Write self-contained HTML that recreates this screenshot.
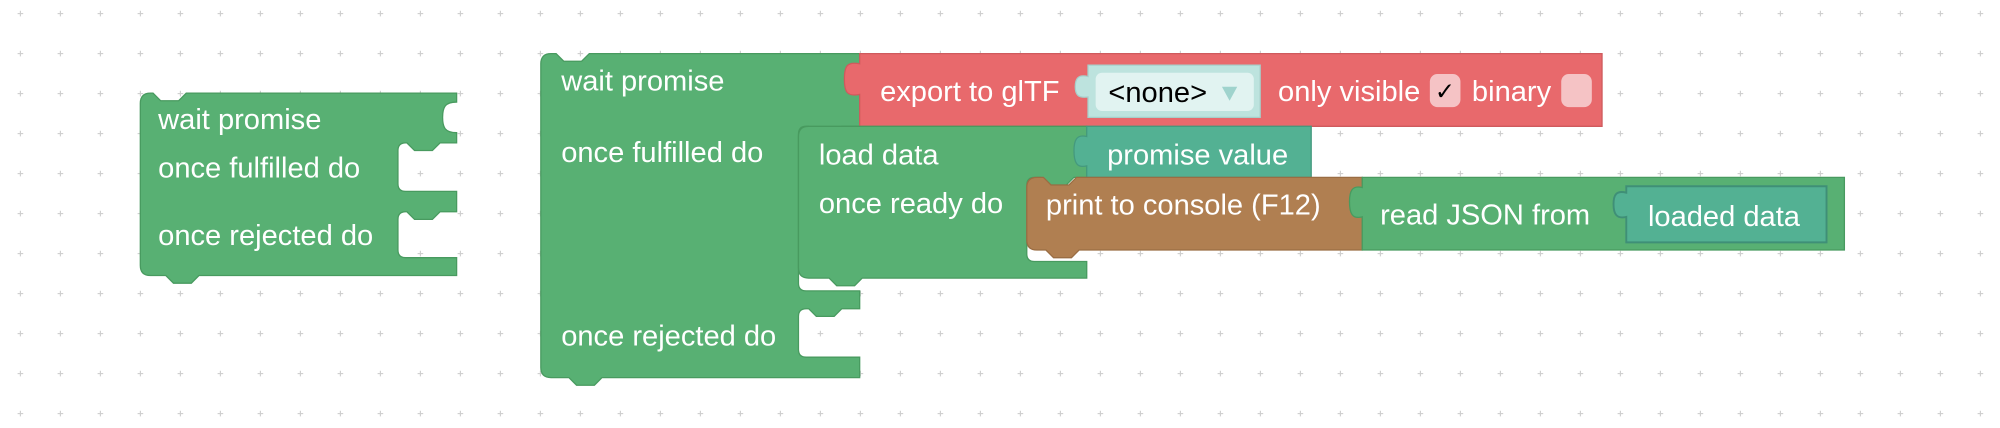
<!DOCTYPE html>
<html><head><meta charset="utf-8"><style>
html,body{margin:0;padding:0;background:#fff;}
svg{display:block;}
text{font-family:"Liberation Sans",sans-serif;font-size:22.8px;fill:#fff;}
</style></head><body>
<svg width="2000" height="428" viewBox="0 0 1568 335.5" xmlns="http://www.w3.org/2000/svg">
<defs>
<pattern id="g" patternUnits="userSpaceOnUse" x="0" y="0" width="31.36" height="31.36">
<path d="M13.8,10.64h4.4M16,8.44v4.4" stroke="#cfcfcf" stroke-width="0.9"/>
</pattern>
</defs>
<rect width="1568" height="335.5" fill="url(#g)"/>

<!-- left block -->
<path d="M110,81 Q110,73 118,73 L120,73 L126,79 L140,79 L146,73 L358,73 L358,80 C349,80 347,84 347,92 C347,100 349,104 358,104 L358,112 L345,112 L339,118 L325,118 L319,112 L318,112 Q312,112 312,118 L312,144 Q312,150 318,150 L358,150 L358,166 L345,166 L339,172 L325,172 L319,166 L318,166 Q312,166 312,172 L312,196 Q312,202 318,202 L358,202 L358,216 L156,216 L150,222 L136,222 L130,216 L118,216 Q110,216 110,208 Z" fill="#58b073" stroke="#489a5f" stroke-width="1"/>
<text x="124" y="101">wait promise</text>
<text x="124" y="139">once fulfilled do</text>
<text x="124" y="192">once rejected do</text>

<!-- main block -->
<path d="M424,50 Q424,42 432,42 L436,42 L442,48 L456,48 L462,42 L674,42 L674,99 L660,99 L654,105 L640,105 L634,99 L632,99 Q626,99 626,105 L626,222 Q626,228 632,228 L674,228 L674,242 L660,242 L654,248 L640,248 L634,242 L632,242 Q626,242 626,248 L626,274 Q626,280 632,280 L674,280 L674,296 L472,296 L466,302 L452,302 L446,296 L432,296 Q424,296 424,288 Z" fill="#58b073" stroke="#489a5f" stroke-width="1"/>
<text x="440" y="71">wait promise</text>
<text x="440" y="127">once fulfilled do</text>
<text x="440" y="271">once rejected do</text>

<!-- red export block -->
<path d="M674,42 L1256,42 L1256,99 L674,99 L674,74 C664,76 662,72 662,62 C662,52 664,48 674,50 Z" fill="#e8696c" stroke="#cf5a5d" stroke-width="1"/>
<text x="690" y="79">export to glTF</text>
<path d="M853,51 L988,51 L988,92 L853,92 L853,76 C845,77 843,74 843,68 C843,62 845,58 853,60 Z" fill="#bde3de" stroke="#a6cfca" stroke-width="1"/>
<rect x="859" y="57" width="124" height="30" rx="5" fill="#e1f3f1"/>
<text x="869" y="80" style="fill:#000">&lt;none&gt;</text>
<path d="M958,68 L970,68 L964,79 Z" fill="#9fd3cd"/>
<text x="1002" y="79">only visible</text>
<rect x="1121" y="58" width="24" height="26" rx="6" fill="#f5c3c5"/>
<text x="1125" y="78" style="fill:#000;font-size:19px">✓</text>
<text x="1154" y="79">binary</text>
<rect x="1224" y="58" width="24" height="26" rx="6" fill="#f5c3c5"/>

<!-- load data block -->
<path d="M626,107 Q626,99 634,99 L852,99 L852,139 L842,139 L836,145 L822,145 L816,139 L811,139 Q805,139 805,145 L805,199 Q805,205 811,205 L852,205 L852,218 L676,218 L670,224 L656,224 L650,218 L634,218 Q626,218 626,210 Z" fill="#58b073" stroke="#489a5f" stroke-width="1"/>
<text x="642" y="129">load data</text>
<text x="642" y="167">once ready do</text>

<!-- promise value -->
<path d="M852,99 L1028,99 L1028,139 L852,139 L852,130 C844,132 842,127 842,118 C842,110 844,105 852,107 Z" fill="#53b193" stroke="#44997e" stroke-width="1"/>
<text x="868" y="129">promise value</text>

<!-- print block -->
<path d="M805,147 Q805,139 813,139 L818,139 L824,145 L838,145 L844,139 L1068,139 L1068,196 L846,196 L840,202 L826,202 L820,196 L813,196 Q805,196 805,188 Z" fill="#b07f51" stroke="#9a6d43" stroke-width="1"/>
<text x="820" y="168">print to console (F12)</text>

<!-- read JSON -->
<path d="M1068,139 L1446,139 L1446,196 L1068,196 L1068,170 C1060,172 1058,167 1058,158 C1058,150 1060,145 1068,147 Z" fill="#58b073" stroke="#489a5f" stroke-width="1"/>
<text x="1082" y="176">read JSON from</text>
<path d="M1275,146 L1432,146 L1432,190 L1275,190 L1275,170 C1267,172 1265,167 1265,160 C1265,153 1267,149 1275,151 Z" fill="#53b193" stroke="#3f8f77" stroke-width="1.5"/>
<text x="1292" y="177">loaded data</text>
</svg>
</body></html>
